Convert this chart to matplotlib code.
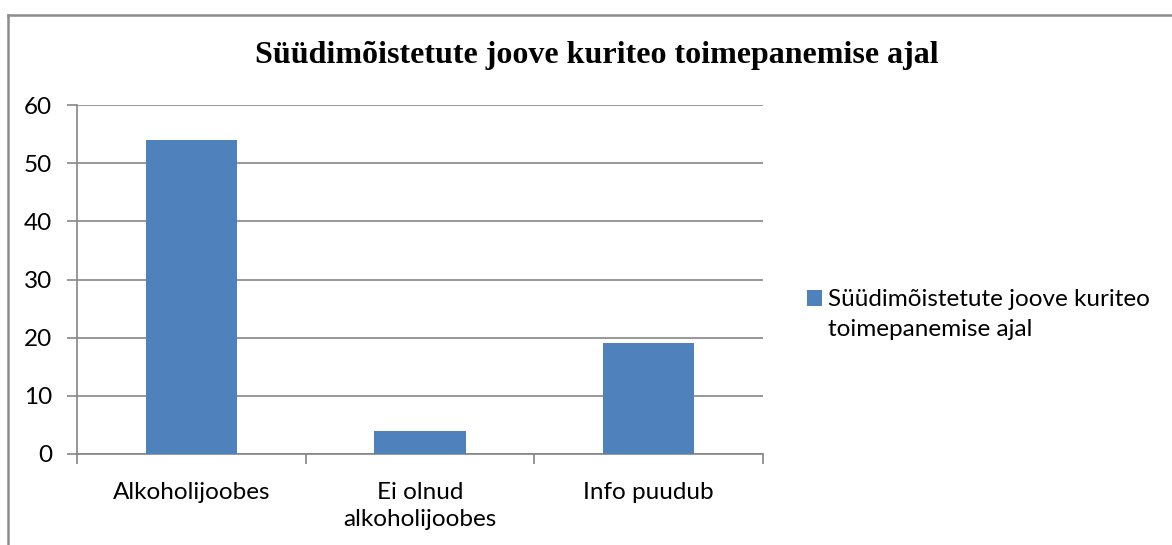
import matplotlib
matplotlib.use("Agg")
import matplotlib.pyplot as plt
from matplotlib.lines import Line2D
from matplotlib.patches import Patch
from matplotlib.transforms import blended_transform_factory

categories = ["Alkoholijoobes", "Ei olnud\nalkoholijoobes", "Info puudub"]
values = [54, 4, 19]
yticks = [0, 10, 20, 30, 40, 50, 60]
title = "Süüdimõistetute joove kuriteo toimepanemise ajal"
series_name = ["Süüdimõistetute joove kuriteo", "toimepanemise ajal"]

W, H = 1172, 545
fig = plt.figure(figsize=(W / 100, H / 100), dpi=100)
ax = fig.add_axes([77 / W, 1 - 454 / H, (763 - 77) / W, (454 - 105) / H])

bar_color = "#4F81BD"
grid_color = "#868686"
font = "Lato"
fs = 17.5

x = list(range(len(categories)))
ax.bar(x, values, width=0.4, color=bar_color, zorder=3)
ax.set_xlim(-0.5, len(categories) - 0.5)
ax.set_ylim(0, 60)
ax.set_yticks(yticks)
ax.set_yticklabels([str(v) for v in yticks], fontfamily=font, fontsize=fs)
ax.yaxis.grid(True, color=grid_color, linewidth=1.2, zorder=0)
ax.set_xticks([xi - 0.5 for xi in x] + [len(categories) - 0.5])
ax.set_xticklabels([])
ax.tick_params(axis="x", length=7, width=1.2, color=grid_color, direction="out")
ax.tick_params(axis="y", length=7, width=1.2, color=grid_color, direction="out", pad=11)
tr = blended_transform_factory(ax.transData, fig.transFigure)
for xi, lab in zip(x, categories):
    ax.text(xi, 1 - 482 / H, lab, transform=tr,
            ha="center", va="top", fontfamily=font, fontsize=fs, linespacing=1.38)
for s in ["top", "right"]:
    ax.spines[s].set_visible(False)
for s in ["left", "bottom"]:
    ax.spines[s].set_color(grid_color)
    ax.spines[s].set_linewidth(1.2)

fig.text(597 / W, 1 - 55 / H, title, ha="center", va="center",
         fontfamily="Liberation Serif", fontweight="bold", fontsize=23)

leg = fig.legend(handles=[Patch(facecolor=bar_color, label=series_name[0])],
                 loc="center left", bbox_to_anchor=(807 / W, 1 - 300 / H),
                 frameon=False, prop={"family": font, "size": fs},
                 handlelength=0.6, handleheight=0.6, handletextpad=0.25,
                 borderpad=0, borderaxespad=0)
fig.text(828 / W, 1 - 330 / H, series_name[1], ha="left", va="center",
         fontfamily=font, fontsize=fs)

fig.add_artist(Line2D([8 / W, 1], [1 - 15 / H, 1 - 15 / H], color="#8c8c8c", linewidth=1.8))
fig.add_artist(Line2D([8 / W, 8 / W], [0, 1 - 15 / H], color="#8c8c8c", linewidth=1.8))

fig.savefig("out.png", dpi=100)
